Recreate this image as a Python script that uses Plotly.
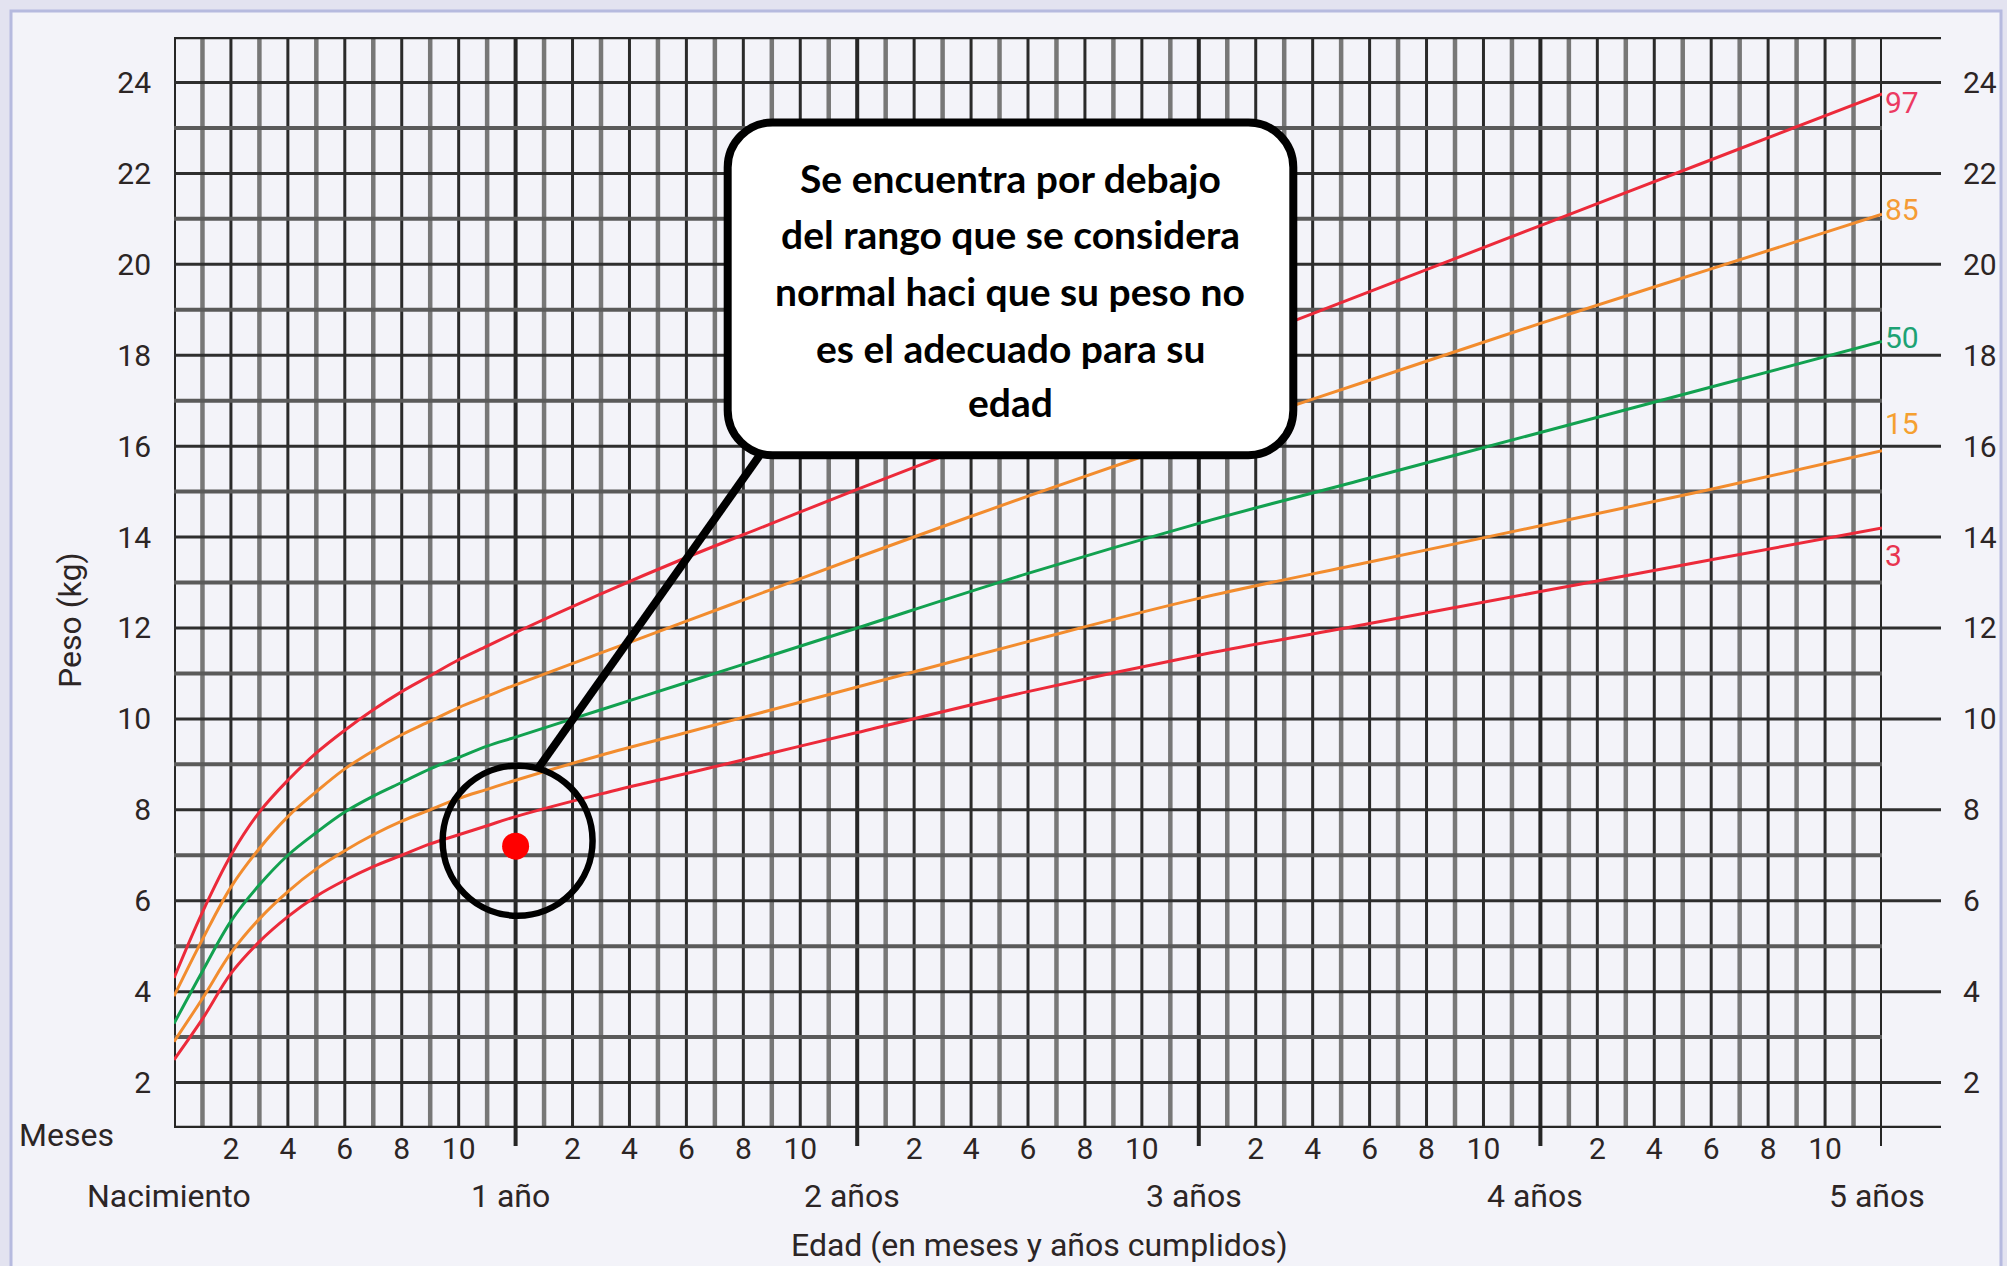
import plotly.graph_objects as go

# ---------------- data ----------------
months = [0, 1, 2, 3, 4, 5, 6, 7, 8, 9, 10, 11, 12, 15, 18, 21, 24, 30, 36, 42, 48, 54, 60]
p97 = [4.3, 5.75, 7.0, 7.95, 8.65, 9.25, 9.75, 10.2, 10.6, 10.95, 11.3, 11.6, 11.9, 12.75, 13.55, 14.3, 15.05, 16.5, 17.95, 19.4, 20.85, 22.3, 23.75]
p85 = [3.9, 5.15, 6.3, 7.15, 7.85, 8.4, 8.9, 9.3, 9.65, 9.95, 10.25, 10.5, 10.75, 11.45, 12.15, 12.85, 13.55, 14.9, 16.2, 17.45, 18.7, 19.9, 21.1]
p50 = [3.3, 4.45, 5.55, 6.35, 7.0, 7.5, 7.95, 8.3, 8.6, 8.9, 9.15, 9.4, 9.6, 10.2, 10.8, 11.4, 12.0, 13.2, 14.3, 15.3, 16.3, 17.3, 18.3]
p15 = [2.9, 3.85, 4.85, 5.6, 6.2, 6.7, 7.1, 7.45, 7.75, 8.0, 8.25, 8.45, 8.65, 9.2, 9.7, 10.2, 10.7, 11.7, 12.65, 13.45, 14.25, 15.05, 15.9]
p3 = [2.5, 3.4, 4.4, 5.1, 5.65, 6.1, 6.45, 6.75, 7.0, 7.25, 7.45, 7.65, 7.85, 8.35, 8.8, 9.25, 9.7, 10.6, 11.4, 12.1, 12.8, 13.5, 14.2]

child_age = [12]
child_weight = [7.2]

percentile_names = ["97", "85", "50", "15", "3"]
percentile_label_y = [23.55, 21.2, 18.4, 16.5, 13.6]

weight_ticks = list(range(2, 25, 2))
month_tick_vals = [m for m in range(61) if m % 12 in (2, 4, 6, 8, 10)]
month_tick_text = [str(m % 12) for m in month_tick_vals]
year_labels = ["Nacimiento", "1 año", "2 años", "3 años", "4 años", "5 años"]

callout_lines = ["Se encuentra por debajo", "del rango que se considera",
                 "normal haci que su peso no", "es el adecuado para su", "edad"]

# ---------------- style ----------------
W, H = 2007, 1266
ML, MR, MT, MB = 174, 125, 37, 138
PW, PH = W - ML - MR, H - MT - MB
FONT = "Roboto, Liberation Sans, sans-serif"
TXT = "#2c2525"
RED, ORANGE, GREEN = "#EC2A3A", "#F28C2E", "#12A150"
curve_colors = [RED, ORANGE, GREEN, ORANGE, RED]
label_colors = ["#EC3A62", "#F59B35", "#1CA274", "#F5A030", "#E8344F"]


def pxx(px):
    return (px - ML) / PW


def pxy(py):
    return (H - MB - py) / PH


fig = go.Figure()

for vals, col in zip([p97, p85, p50, p15, p3], curve_colors):
    fig.add_trace(go.Scatter(x=months, y=vals, mode="lines",
                             line=dict(color=col, width=3, shape="spline", smoothing=1.0),
                             hoverinfo="skip", showlegend=False))

fig.add_trace(go.Scatter(x=child_age, y=child_weight, mode="markers",
                         marker=dict(size=27, color="#FF0000"),
                         hoverinfo="skip", showlegend=False))

# invisible trace for right axis
fig.add_trace(go.Scatter(x=[0], y=[1], yaxis="y2", mode="markers",
                         marker=dict(opacity=0), hoverinfo="skip", showlegend=False))

shapes = []
shapes.append(dict(type="rect", xref="paper", yref="paper",
                   x0=pxx(11), x1=pxx(2001), y0=pxy(1300), y1=pxy(11),
                   fillcolor="#F3F3F9", line=dict(color="#B6BADF", width=3), layer="below"))

# vertical grid (months)
for m in range(61):
    if m % 12 == 0:
        col, wid = "#262626", 4
        y0 = 0 if m == 0 else pxy(1146)
    elif m % 2:
        col, wid, y0 = "#777777", 4.5, 0
    else:
        col, wid, y0 = "#2a2a2a", 3, 0
    shapes.append(dict(type="line", xref="x", yref="paper", x0=m, x1=m, y0=y0, y1=1,
                       line=dict(color=col, width=wid), layer="below"))

# horizontal grid (kg)
for kg in range(1, 26):
    if kg in (1, 25):
        col, wid, x1 = "#262626", 4.5, pxx(1941)
    elif kg % 2 == 0:
        col, wid, x1 = "#2e2e2e", 3, pxx(1941)
    else:
        col, wid, x1 = "#5a5a5a", 4, 1
    shapes.append(dict(type="line", xref="paper", yref="y", x0=0, x1=x1, y0=kg, y1=kg,
                       line=dict(color=col, width=wid), layer="below"))

# highlight circle around the child point
cx, cy, rx_c, ry_c = 12.07, 7.32, 2.634, 1.65
shapes.append(dict(type="circle", xref="x", yref="y",
                   x0=cx - rx_c, x1=cx + rx_c, y0=cy - ry_c, y1=cy + ry_c,
                   line=dict(color="black", width=6.5), layer="above"))

# pointer line
shapes.append(dict(type="line", xref="x", yref="y", x0=20.69, y0=15.9, x1=12.75, y1=8.875,
                   line=dict(color="black", width=8), layer="above"))

# rounded callout box
bx0, bx1, by0, by1, brx, bry = 19.45, 39.32, 15.8, 23.12, 1.58, 0.99
k = 0.5523
path = (f"M {bx0+brx},{by1} L {bx1-brx},{by1} "
        f"C {bx1-brx+k*brx},{by1} {bx1},{by1-bry+k*bry} {bx1},{by1-bry} "
        f"L {bx1},{by0+bry} "
        f"C {bx1},{by0+bry-k*bry} {bx1-brx+k*brx},{by0} {bx1-brx},{by0} "
        f"L {bx0+brx},{by0} "
        f"C {bx0+brx-k*brx},{by0} {bx0},{by0+bry-k*bry} {bx0},{by0+bry} "
        f"L {bx0},{by1-bry} "
        f"C {bx0},{by1-bry+k*bry} {bx0+brx-k*brx},{by1} {bx0+brx},{by1} Z")
shapes.append(dict(type="path", xref="x", yref="y", path=path,
                   fillcolor="white", line=dict(color="black", width=8), layer="above"))

annotations = []
line_y = [21.90, 20.67, 19.41, 18.16, 16.97]
for txt, yy in zip(callout_lines, line_y):
    annotations.append(dict(x=(bx0 + bx1) / 2, y=yy, xref="x", yref="y", text=f"<b>{txt}</b>",
                            showarrow=False, xanchor="center", yanchor="middle",
                            font=dict(family="Lato, Open Sans, sans-serif", size=39, color="black")))

for name, yy, col in zip(percentile_names, percentile_label_y, label_colors):
    annotations.append(dict(x=60, y=yy, xref="x", yref="y", text=name, showarrow=False,
                            xanchor="left", yanchor="middle", xshift=1,
                            font=dict(family=FONT, size=30, color=col)))

for i, lab in enumerate(year_labels):
    annotations.append(dict(x=12 * i, y=pxy(1196), xref="x", yref="paper", text=lab,
                            showarrow=False, xanchor="center", yanchor="middle", xshift=-5,
                            font=dict(family=FONT, size=32, color=TXT)))

annotations.append(dict(x=pxx(17), y=pxy(1135), xref="paper", yref="paper", text="Meses",
                        showarrow=False, xanchor="left", yanchor="middle",
                        font=dict(family=FONT, size=32, color=TXT)))
annotations.append(dict(x=pxx(70), y=pxy(620), xref="paper", yref="paper", text="Peso (kg)",
                        showarrow=False, xanchor="center", yanchor="middle", textangle=-90,
                        font=dict(family=FONT, size=32, color=TXT)))
annotations.append(dict(x=pxx(1039), y=pxy(1245), xref="paper", yref="paper",
                        text="Edad (en meses y años cumplidos)",
                        showarrow=False, xanchor="center", yanchor="middle",
                        font=dict(family=FONT, size=32, color=TXT)))

tickfont = dict(family=FONT, size=30, color=TXT)
fig.update_layout(
    width=W, height=H, autosize=False,
    margin=dict(l=ML, r=MR, t=MT, b=MB, pad=0, autoexpand=False),
    paper_bgcolor="#E3E3F0", plot_bgcolor="#F3F3F9",
    showlegend=False, hovermode=False,
    shapes=shapes, annotations=annotations,
    xaxis=dict(range=[0, 60], showgrid=False, zeroline=False, showline=False, ticks="",
               tickvals=month_tick_vals, ticktext=month_tick_text, tickfont=tickfont,
               ticklabelstandoff=0, automargin=False, fixedrange=True),
    yaxis=dict(range=[1, 25], showgrid=False, zeroline=False, showline=False, ticks="",
               tickvals=weight_ticks, tickfont=tickfont, ticklabelstandoff=22,
               automargin=False, fixedrange=True),
    yaxis2=dict(range=[1, 25], overlaying="y", side="right", showgrid=False, zeroline=False,
                showline=False, ticks="", tickvals=weight_ticks, tickfont=tickfont,
                ticklabelstandoff=80, automargin=False, fixedrange=True),
)

fig.write_html(
    "out.html",
    config={"displayModeBar": False},
    post_script="document.body.style.margin='0';document.body.style.background='#E3E3F0';"
                "document.body.style.overflow='hidden';",
)
